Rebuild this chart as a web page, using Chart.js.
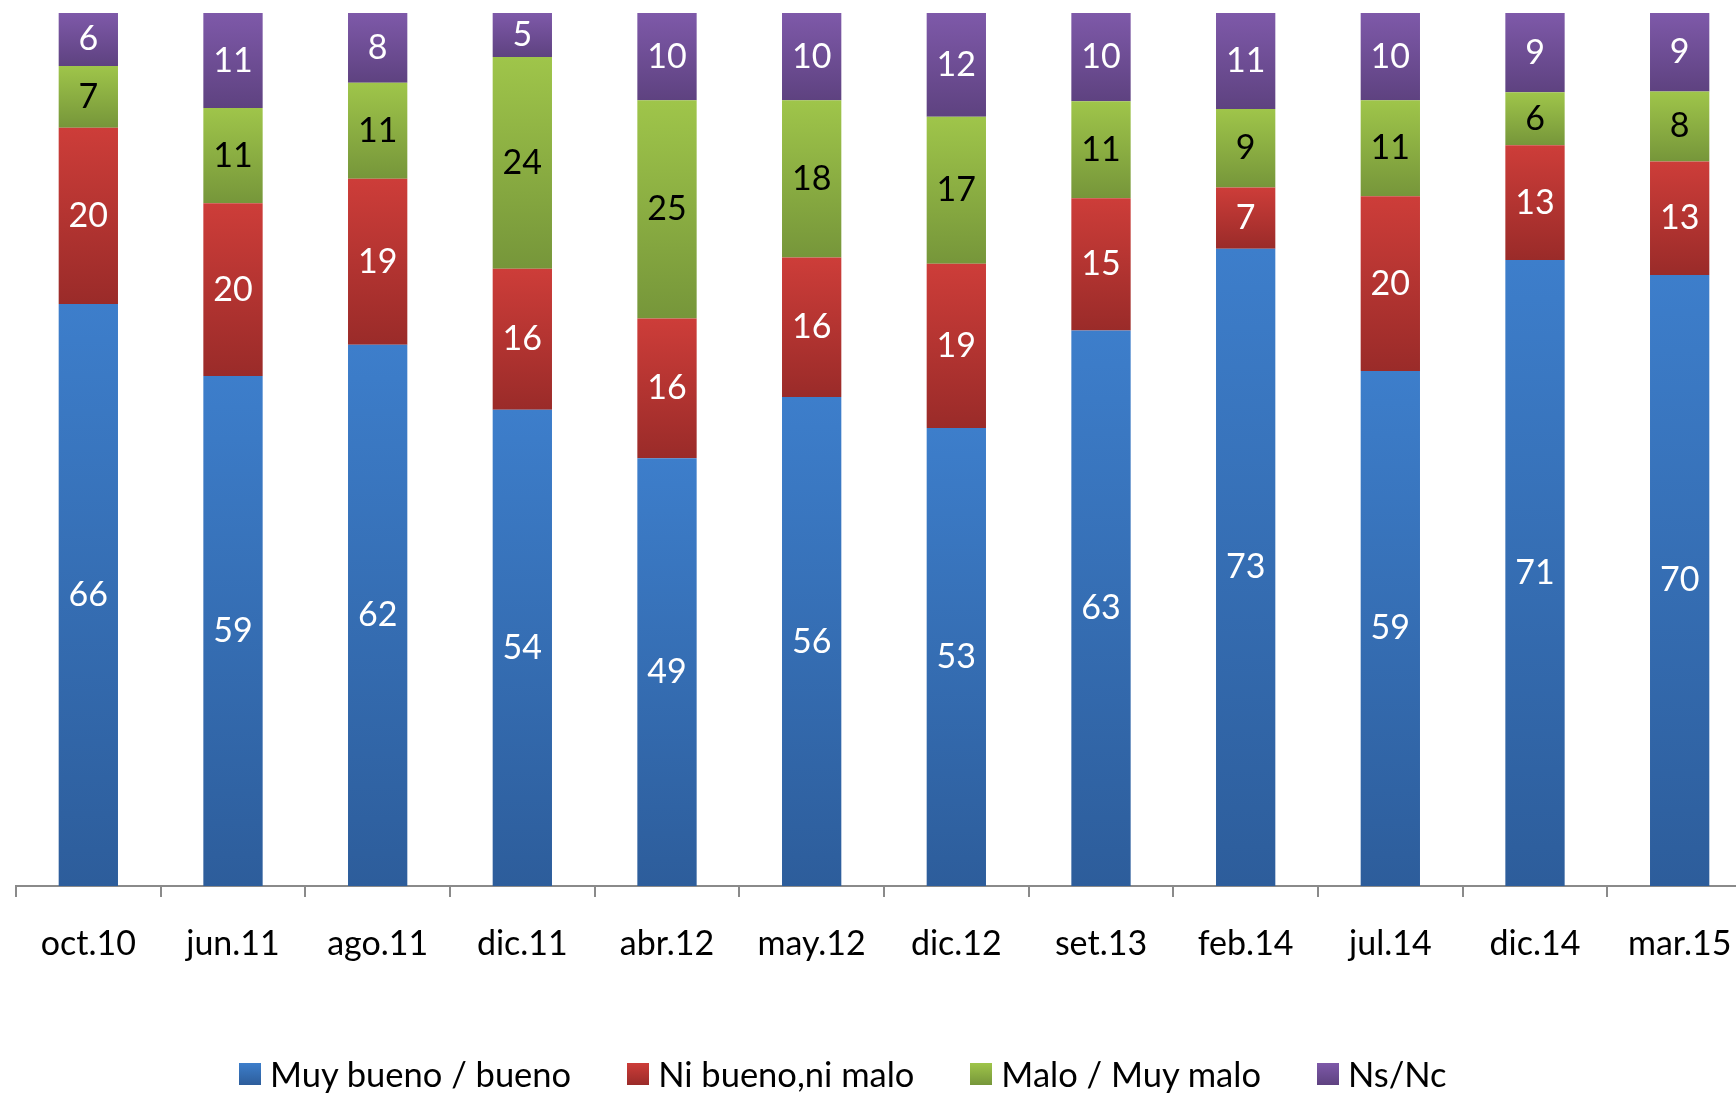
<!DOCTYPE html>
<html>
<head>
<meta charset="utf-8">
<script src="https://cdn.jsdelivr.net/npm/chart.js@4.4.0/dist/chart.umd.min.js"></script>
<style>
    html, body { margin: 0; padding: 0; background: #fff; overflow: hidden; width: 1736px; height: 1095px; }
    #wrap { position: absolute; left: 0; top: 0; width: 1752px; height: 1095px; }
    #legend { position: absolute; left: 239px; top: 1053px; display: flex; align-items: center; font-family: Lato, sans-serif; font-size: 34.5px; color: #000; white-space: nowrap; }
    .item { display: flex; align-items: center; margin-right: 56px; }
    .box { width: 22px; height: 22px; margin-right: 9px; }
</style>
</head>
<body>
<div id="wrap"><canvas id="chart" width="1752" height="1095"></canvas></div>
<div id="legend"></div>
<script>
const categories = ['oct.10', 'jun.11', 'ago.11', 'dic.11', 'abr.12', 'may.12', 'dic.12', 'set.13', 'feb.14', 'jul.14', 'dic.14', 'mar.15'];
const muyBueno = [66, 59, 62, 54, 49, 56, 53, 63, 73, 59, 71, 70];
const niBueno = [20, 20, 19, 16, 16, 16, 19, 15, 7, 20, 13, 13];
const malo = [7, 11, 11, 24, 25, 18, 17, 11, 9, 11, 6, 8];
const nsnc = [6, 11, 8, 5, 10, 10, 12, 10, 11, 10, 9, 9];

const seriesNames = ['Muy bueno / bueno', 'Ni bueno,ni malo', 'Malo / Muy malo', 'Ns/Nc'];
const seriesValues = [muyBueno, niBueno, malo, nsnc];
const topColors = ['#3d7ecb', '#cd3d39', '#9fc54a', '#7e59a9'];
const bottomColors = ['#2d5d9b', '#9a2b29', '#76963a', '#5e4280'];
const labelColors = ['#fff', '#fff', '#000', '#fff'];

// 100% stacked: each bar is scaled to its total
const totals = categories.map((c, i) => seriesValues.reduce((s, arr) => s + arr[i], 0));
const shares = seriesValues.map(arr => arr.map((v, i) => v / totals[i] * 100));

function segmentGradient(ctx) {
    const chart = ctx.chart;
    const d = ctx.datasetIndex;
    if (!chart.chartArea || ctx.type !== 'data') return topColors[d];
    const y = chart.scales.y;
    const i = ctx.dataIndex;
    let base = 0;
    for (let k = 0; k < d; k++) base += shares[k][i];
    const top = y.getPixelForValue(base + shares[d][i]);
    const bottom = y.getPixelForValue(base);
    const g = chart.ctx.createLinearGradient(0, top, 0, bottom);
    g.addColorStop(0, topColors[d]);
    g.addColorStop(1, bottomColors[d]);
    return g;
}

const valueLabels = {
    id: 'valueLabels',
    afterDatasetsDraw(chart) {
        const ctx = chart.ctx;
        ctx.save();
        ctx.font = '34px Lato, sans-serif';
        ctx.textAlign = 'center';
        ctx.textBaseline = 'middle';
        chart.data.datasets.forEach((ds, d) => {
            const meta = chart.getDatasetMeta(d);
            ctx.fillStyle = labelColors[d];
            meta.data.forEach((bar, i) => {
                ctx.fillText(String(seriesValues[d][i]), bar.x, (bar.y + bar.base) / 2);
            });
        });
        ctx.restore();
    }
};

// category names under the axis, placed with the x scale
const categoryLabels = {
    id: 'categoryLabels',
    afterDraw(chart) {
        const x = chart.scales.x;
        const ctx = chart.ctx;
        ctx.save();
        ctx.font = '34px Lato, sans-serif';
        ctx.fillStyle = '#000';
        ctx.textAlign = 'center';
        ctx.textBaseline = 'middle';
        categories.forEach((c, i) => {
            ctx.fillText(c, x.getPixelForTick(i), x.top + 58);
        });
        ctx.restore();
    }
};

const chart = new Chart(document.getElementById('chart'), {
    type: 'bar',
    data: {
        labels: categories,
        datasets: seriesNames.map((name, d) => ({
            label: name,
            data: shares[d],
            backgroundColor: segmentGradient,
            borderWidth: 0,
            barPercentage: 0.41,
            categoryPercentage: 1
        }))
    },
    options: {
        responsive: false,
        animation: false,
        layout: { padding: { left: 16, right: 0, top: 13, bottom: 198 } },
        plugins: { legend: { display: false }, tooltip: { enabled: false } },
        scales: {
            x: {
                stacked: true,
                offset: true,
                border: { display: true, color: '#8a8a8a', width: 2 },
                grid: { offset: true, drawOnChartArea: false, drawTicks: true, tickLength: 11, color: '#8a8a8a', lineWidth: 2 },
                ticks: { display: false }
            },
            y: {
                stacked: true,
                display: false,
                min: 0,
                max: 100
            }
        }
    },
    plugins: [valueLabels, categoryLabels]
});

// legend
const legend = document.getElementById('legend');
seriesNames.forEach((name, d) => {
    const item = document.createElement('div');
    item.className = 'item';
    const box = document.createElement('span');
    box.className = 'box';
    box.style.background = `linear-gradient(${topColors[d]}, ${bottomColors[d]})`;
    const text = document.createElement('span');
    text.textContent = name;
    item.appendChild(box);
    item.appendChild(text);
    legend.appendChild(item);
});
</script>
</body>
</html>
